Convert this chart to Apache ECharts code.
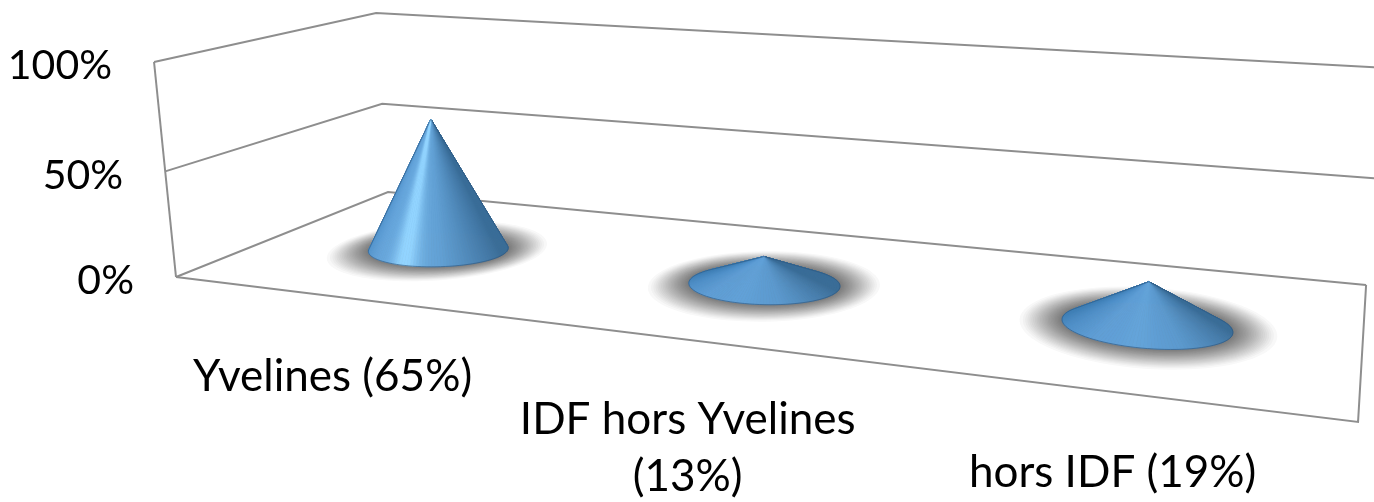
<!DOCTYPE html>
<html>
<head>
<meta charset="utf-8">
<style>html,body{margin:0;padding:0;background:#fff}#c{width:1374px;height:502px}</style>
<script src="https://cdn.jsdelivr.net/npm/echarts@6/dist/echarts.min.js"></script>
</head>
<body>
<div id="c"></div>
<script>
const categories = ['Yvelines (65%)', 'IDF hors Yvelines\n(13%)', 'hors IDF (19%)'];
const values = [65, 13, 19];
const tickValues = [0, 50, 100];
const tickLabels = ['0%', '50%', '100%'];

// Perspective of the 3D box: (u along categories, v depth, z height), all 0..1
function project(u, v, z) {
  const w = 1 - 0.2367 * u + 0.2105 * v - 0.034 * z;
  return [
    (860.6 * u + 293.7 * v + 176 - 27.2 * z) / w,
    (45.1 * u - 44.6 * v + 277 - 217.1 * z + 3.5 * u * v * z) / w
  ];
}
const projectCone = (u, v, z) => { const p = project(u, v, z); return [p[0] + 1, p[1] + 3]; };
function norm(api, params, xv, yv) {
  const cs = params.coordSys, p = api.coord([xv, yv]);
  return [(p[0] - cs.x) / cs.width, (cs.y + cs.height - p[1]) / cs.height];
}
const FONT = 'Lato, "Open Sans", sans-serif';
const LINE = '#8e8e8e';
const stops = [[-180,'#3f7fb6'],[-90,'#3f7fb6'],[-60,'#4f90c9'],[-30,'#5f9ed6'],[0,'#5f9fd6'],
               [30,'#5b99ce'],[60,'#4a82b2'],[90,'#3a6d98'],[180,'#3a6d98']];
function hex(c){return [1,3,5].map(i=>parseInt(c.substr(i,2),16));}
function shade(phi, z) {
  let i = 0;
  while (i < stops.length - 2 && phi > stops[i+1][0]) i++;
  const a = stops[i], b = stops[i+1], k = (phi-a[0])/(b[0]-a[0]);
  const ca = hex(a[1]), cb = hex(b[1]);
  const s = Math.pow(Math.min(1, z/0.65), 2);
  const g = Math.exp(-phi*phi/(2*8*8)) * s * 0.85;
  const g2 = Math.exp(-phi*phi/(2*30*30)) * s * 0.2;
  const hi = [146,212,255];
  const c = ca.map((v,j)=>{
    const m = v+(cb[j]-v)*k;
    const t = Math.min(1,g+g2);
    return Math.round(m+(hi[j]-m)*t);
  });
  return 'rgb('+c.join(',')+')';
}
function hull(pts) {
  const s = pts.slice().sort((a,b)=>a[0]-b[0]||a[1]-b[1]);
  const cross=(o,a,b)=>(a[0]-o[0])*(b[1]-o[1])-(a[1]-o[1])*(b[0]-o[0]);
  const lo=[],up=[];
  for(const p of s){while(lo.length>1&&cross(lo[lo.length-2],lo[lo.length-1],p)<=0)lo.pop();lo.push(p);}
  for(const p of s.slice().reverse()){while(up.length>1&&cross(up[up.length-2],up[up.length-1],p)<=0)up.pop();up.push(p);}
  return lo.slice(0,-1).concat(up.slice(0,-1));
}

function renderFrame(params, api) {
  const n = norm(api, params, 0, api.value(1));
  const z = n[1], kids = [];
  const line = (pts) => ({type:'polyline', silent:true, shape:{points:pts},
    style:{stroke:LINE, lineWidth:2, fill:null}});
  kids.push(line([project(0,0,z), project(0,1,z), project(1,1,z)]));
  if (params.dataIndex === 0) {
    kids.push(line([project(0,0,0), project(1,0,0), project(1,1,0)]));
    kids.push(line([project(0,0,0), project(0,0,1)]));
  }
  const p = project(0,0,z);
  kids.push({type:'text', silent:true, style:{text:tickLabels[params.dataIndex], x:p[0]-42, y:p[1]+4,
    align:'right', verticalAlign:'middle', fontSize:41, fontFamily:FONT, fill:'#000'}});
  return {type:'group', children:kids};
}

function renderCone(params, api) {
  const n = norm(api, params, api.value(0), api.value(1));
  const u0 = n[0], z = n[1], v0 = 0.5, ru = 0.068, rv = 0.175, kids = [];
  const ring = (su, sv) => {
    const r = [];
    for (let i=0;i<96;i++){const t=i/96*2*Math.PI;
      r.push(projectCone(u0+ru*su*Math.cos(t), v0+rv*sv*Math.sin(t), 0));}
    return r;
  };
  // soft floor shadow
  const N = 26;
  for (let i=0;i<N;i++){
    const k = Math.pow(i/(N-1), 0.8);
    kids.push({type:'polygon', silent:true, shape:{points:ring(1.5-0.5*k, 1.8-0.8*k)},
      style:{fill:'rgba(40,40,40,0.032)'}});
  }
  const apex = projectCone(u0, v0, z);
  // cone surface as a fan, back facets first
  const M = 144, facets = [];
  for (let i=0;i<M;i++){
    const t0=i/M*2*Math.PI, t1=(i+1)/M*2*Math.PI, tm=(t0+t1)/2;
    let phi = tm*180/Math.PI + 90; if (phi>180) phi-=360;
    facets.push({depth:Math.sin(tm), phi,
      pts:[apex, projectCone(u0+ru*Math.cos(t0), v0+rv*Math.sin(t0),0), projectCone(u0+ru*Math.cos(t1), v0+rv*Math.sin(t1),0)]});
  }
  facets.sort((a,b)=>b.depth-a.depth);
  for (const f of facets){
    const c = shade(f.phi, z);
    kids.push({type:'polygon', silent:true, shape:{points:f.pts}, style:{fill:c, stroke:c, lineWidth:0.7}});
  }
  kids.push({type:'polygon', silent:true, shape:{points:hull(ring(1,1).concat([apex]))},
    style:{fill:null, stroke:'rgba(45,85,125,0.6)', lineWidth:1}});
  const f = project(u0, 0, 0);
  kids.push({type:'text', silent:true, style:{text:categories[params.dataIndex], x:f[0], y:f[1]+52,
    align:'center', verticalAlign:'top', fontSize:44, lineHeight:57, fontFamily:FONT, fill:'#000'}});
  return {type:'group', children:kids};
}

const chart = echarts.init(document.getElementById('c'), null, {renderer:'canvas'});
chart.setOption({
  animation:false,
  backgroundColor:'#fff',
  grid:{left:0, right:0, top:0, bottom:0},
  xAxis:{type:'category', data:categories, show:false},
  yAxis:{type:'value', min:0, max:100, interval:50, show:false},
  series:[
    {type:'custom', coordinateSystem:'cartesian2d', renderItem:renderFrame, clip:false, silent:true, z:1,
     encode:{x:0,y:1}, data:tickValues.map(t=>[0,t])},
    {type:'custom', coordinateSystem:'cartesian2d', renderItem:renderCone, clip:false, silent:true, z:2,
     encode:{x:0,y:1}, data:values.map((v,i)=>[i,v])}
  ]
});
</script>
</body>
</html>
